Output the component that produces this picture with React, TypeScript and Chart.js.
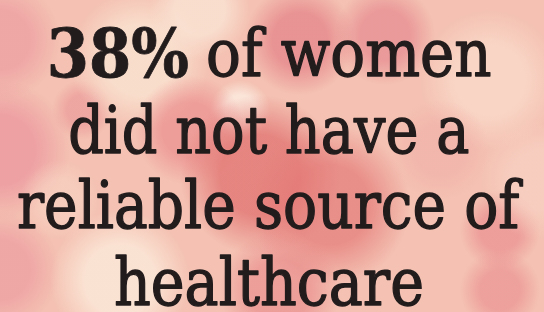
import React, { useEffect, useRef } from "react";
import { Chart, registerables } from "chart.js";

Chart.register(...registerables);

// Data / text content
const statValue = 38;
const statLabel = [`${statValue}%`];
const lineTexts = ["of women", "did not have a", "reliable source of", "healthcare"];
const lineBaselines = [76, 153, 228, 305];
const lineLeft = [208, 70, 18, 115];
const lineRight = [491, 469, 524, 422];
const statLeft = 50;
const statRight = 188;

const FONT_FAMILY = "'DejaVu Serif', 'Liberation Serif', serif";
const FONT_SIZE = 66;
const TEXT_COLOR = "#221c1d";

const blobs: [number, number, number, string][] = [
  [0, 150, 70, "rgba(236,150,158,0.75)"],
  [0, 40, 60, "rgba(236,150,158,0.6)"],
  [0, 270, 60, "rgba(236,150,158,0.6)"],
  [82, 110, 30, "rgba(232,140,145,0.5)"],
  [140, 60, 70, "rgba(250,226,208,0.85)"],
  [200, 10, 50, "rgba(250,228,212,0.8)"],
  [120, 280, 70, "rgba(251,230,214,0.9)"],
  [240, 110, 30, "rgba(252,238,226,0.8)"],
  [300, 40, 55, "rgba(228,128,135,0.7)"],
  [385, 35, 50, "rgba(228,128,138,0.6)"],
  [190, 130, 55, "rgba(234,134,136,0.6)"],
  [260, 175, 80, "rgba(226,118,116,0.8)"],
  [330, 205, 80, "rgba(228,122,120,0.7)"],
  [280, 290, 60, "rgba(232,135,135,0.6)"],
  [500, 230, 40, "rgba(232,130,135,0.55)"],
  [500, 290, 40, "rgba(232,130,135,0.5)"],
  [490, 80, 70, "rgba(250,218,202,0.8)"],
  [540, 180, 60, "rgba(248,210,196,0.7)"],
  [440, 150, 50, "rgba(240,170,165,0.45)"],
  [60, 200, 40, "rgba(248,212,196,0.6)"],
];

const posterPlugin = {
  id: "poster",
  beforeDraw(chart: any) {
    const ctx = chart.ctx as CanvasRenderingContext2D;
    const w = chart.width, h = chart.height;
    ctx.save();
    ctx.fillStyle = "#f4c1b2";
    ctx.fillRect(0, 0, w, h);
    for (const [x, y, r, c] of blobs) {
      const g = ctx.createRadialGradient(x, y, 0, x, y, r);
      g.addColorStop(0, c);
      g.addColorStop(0.5, c);
      g.addColorStop(1, c.replace(/[\d.]+\)$/, "0)"));
      ctx.fillStyle = g;
      ctx.fillRect(0, 0, w, h);
    }
    ctx.restore();
  },
  afterDraw(chart: any) {
    const ctx = chart.ctx as CanvasRenderingContext2D;
    ctx.save();
    ctx.fillStyle = TEXT_COLOR;
    ctx.strokeStyle = TEXT_COLOR;
    ctx.lineJoin = "round";
    ctx.textBaseline = "alphabetic";
    ctx.textAlign = "left";
    const bold = `bold ${FONT_SIZE + 2}px ${FONT_FAMILY}`;
    const reg = `${FONT_SIZE}px ${FONT_FAMILY}`;
    const drawFit = (t: string, font: string, left: number, right: number, y: number, lw: number) => {
      ctx.font = font;
      const m = ctx.measureText(t);
      const inkL = m.actualBoundingBoxLeft;
      const inkW = m.actualBoundingBoxLeft + m.actualBoundingBoxRight;
      const sx = (right - left - lw) / inkW;
      ctx.save();
      ctx.translate(left + lw / 2 + inkL * sx, y);
      ctx.scale(sx, 1);
      ctx.fillText(t, 0, 0);
      if (lw > 0) {
        ctx.lineWidth = lw;
        ctx.strokeText(t, 0, 0);
      }
      ctx.restore();
    };
    drawFit(statLabel[0], bold, statLeft, statRight, lineBaselines[0] + 1, 0.8);
    lineTexts.forEach((t, i) => {
      drawFit(t, reg, lineLeft[i], lineRight[i], lineBaselines[i], 1.4);
    });
    ctx.restore();
  },
};

export default function App() {
  const ref = useRef<HTMLCanvasElement | null>(null);
  useEffect(() => {
    document.body.style.margin = "0";
    const chart = new Chart(ref.current!, {
      type: "bar",
      data: { labels: [], datasets: [] },
      options: {
        animation: false,
        responsive: false,
        maintainAspectRatio: false,
        plugins: { legend: { display: false }, tooltip: { enabled: false }, title: { display: false } },
        scales: { x: { display: false }, y: { display: false } },
      },
      plugins: [posterPlugin],
    });
    return () => chart.destroy();
  }, []);
  return (
    <div style={{ width: 544, height: 312 }}>
      <canvas ref={ref} width={544} height={312} />
    </div>
  );
}
